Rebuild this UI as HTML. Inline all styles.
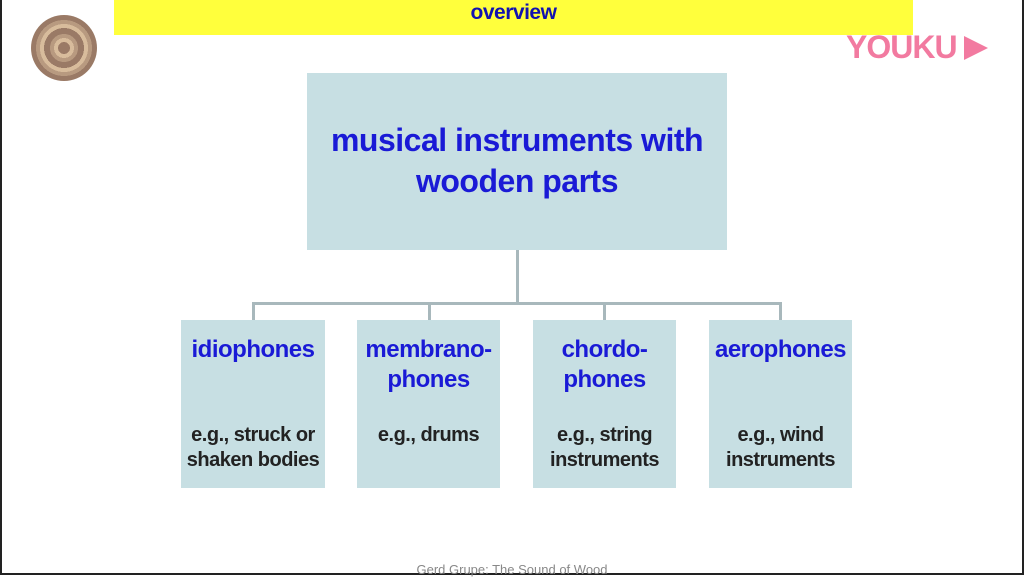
<!DOCTYPE html>
<html><head><style>
body{margin:0;width:1024px;height:575px;background:#fff;position:relative;overflow:hidden;font-family:"Liberation Sans",sans-serif}
.b{position:absolute;background:#c7dfe3}
.t{position:absolute;color:#1a1ad6;font-weight:bold;text-align:center;letter-spacing:-0.5px}
.e{position:absolute;color:#222;font-weight:bold;text-align:center;font-size:20px;line-height:25px;letter-spacing:-0.5px}
.l{position:absolute;background:#a8b8bc}
</style></head><body>
<div style="position:absolute;left:0;top:0;width:2px;height:575px;background:#222"></div>
<div style="position:absolute;right:0;top:0;width:2px;height:575px;background:#222"></div>
<div style="position:absolute;left:0;bottom:0;width:1024px;height:2px;background:#222"></div>
<div style="position:absolute;left:114px;top:0;width:799px;height:35px;background:#ffff3c"></div>
<div class="t" style="left:114px;width:799px;top:1px;font-size:21px;color:#1212b0">overview</div>
<div style="position:absolute;left:31px;top:15px;width:66px;height:66px;border-radius:50%;background:repeating-radial-gradient(circle,#9a7a66 0 6px,#d8bc9c 6px 10px,#b89a80 10px 14px)"></div>
<div style="position:absolute;left:846px;top:29px;font-size:32px;font-weight:bold;color:#f27aa0;letter-spacing:-1px">YOUKU</div>
<div style="position:absolute;left:964px;top:36px;width:0;height:0;border-left:24px solid #f27aa0;border-top:12px solid transparent;border-bottom:12px solid transparent"></div>
<div class="b" style="left:307px;top:73px;width:420px;height:177px"></div>
<div class="t" style="left:307px;width:420px;top:120px;font-size:32px;line-height:41px">musical instruments with<br>wooden parts</div>
<div class="l" style="left:516px;top:250px;width:3px;height:54px"></div>
<div class="l" style="left:252px;top:302px;width:530px;height:3px"></div>
<div class="l" style="left:252px;top:302px;width:3px;height:18px"></div>
<div class="l" style="left:428px;top:302px;width:3px;height:18px"></div>
<div class="l" style="left:603px;top:302px;width:3px;height:18px"></div>
<div class="l" style="left:779px;top:302px;width:3px;height:18px"></div>
<div class="b" style="left:181px;top:320px;width:144px;height:168px"></div>
<div class="b" style="left:357px;top:320px;width:143px;height:168px"></div>
<div class="b" style="left:533px;top:320px;width:143px;height:168px"></div>
<div class="b" style="left:709px;top:320px;width:143px;height:168px"></div>
<div class="t" style="left:171px;width:164px;top:335px;font-size:24px;line-height:30px">idiophones</div>
<div class="t" style="left:347px;width:163px;top:335px;font-size:24px;line-height:30px">membrano-<br>phones</div>
<div class="t" style="left:523px;width:163px;top:335px;font-size:24px;line-height:30px">chordo-<br>phones</div>
<div class="t" style="left:699px;width:163px;top:335px;font-size:24px;line-height:30px">aerophones</div>
<div class="e" style="left:171px;width:164px;top:423px">e.g., struck or<br>shaken bodies</div>
<div class="e" style="left:347px;width:163px;top:423px">e.g., drums</div>
<div class="e" style="left:523px;width:163px;top:423px">e.g., string<br>instruments</div>
<div class="e" style="left:699px;width:163px;top:423px">e.g., wind<br>instruments</div>
<div style="position:absolute;left:0;width:1024px;text-align:center;top:562px;font-size:13px;color:#888">Gerd Grupe: The Sound of Wood</div>
</body></html>
